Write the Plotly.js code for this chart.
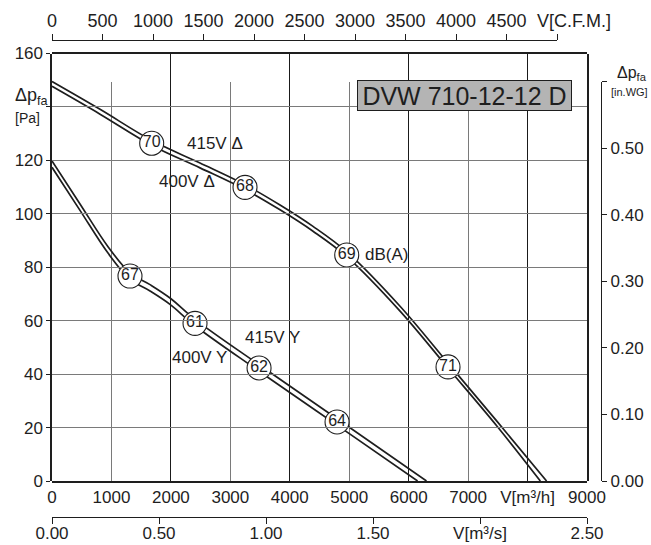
<!DOCTYPE html>
<html><head><meta charset="utf-8">
<script src="https://cdn.plot.ly/plotly-3.0.1.min.js"></script>
<style>html,body{margin:0;padding:0;background:#fff}#chart{width:651px;height:545px}</style>
</head><body><div id="chart"></div>
<script>
// Fan curves: air flow V [m³/h] and static pressure Δp_fa [Pa]
const q415D = [0, 808, 1682, 2490, 3247, 3836, 4391, 4963, 5855, 6662, 7487, 8320];
const p415D = [149.5, 139.1, 127.4, 119.0, 110.9, 103.3, 95.3, 85.7, 65.4, 44.1, 22.3, 0];
const q400D = [0, 808, 1682, 2490, 3247, 3836, 4391, 4963, 5855, 6662, 7487, 8215];
const p400D = [147.7, 137.3, 125.6, 117.2, 109.1, 101.5, 93.5, 83.9, 63.6, 42.3, 20.5, 0];
const q415Y = [0, 471, 942, 1312, 1649, 1985, 2406, 3483, 4795, 6300];
const p415Y = [119.8, 103.7, 87.7, 77.9, 73.5, 68.5, 60.5, 43.5, 23.3, 0];
const q400Y = [0, 471, 942, 1312, 1649, 1985, 2406, 3483, 4795, 6150];
const p400Y = [117.4, 101.3, 85.3, 75.5, 71.1, 66.1, 58.1, 41.1, 20.9, 0];

// Sound levels dB(A) marked on the curves
const dbLabels = ['70', '68', '69', '71', '67', '61', '62', '64'];
const dbQ = [1677, 3247, 4958, 6662, 1312, 2406, 3483, 4795];
const dbP = [126.4, 109.9, 84.6, 42.7, 76.7, 59.0, 42.3, 22.1];

// Curve captions
const curveLabels = ['415V Δ', '400V Δ', 'dB(A)', '415V Y', '400V Y'];
const curveLabelQ = [2742, 2271, 5620, 3713, 2478];
const curveLabelP = [126.4, 112.0, 84.6, 53.8, 46.3];

// Axes
const flowTicks = [0, 1000, 2000, 3000, 4000, 5000, 6000, 7000, 8000, 9000];
const flowTickText = ['0', '1000', '2000', '3000', '4000', '5000', '6000', '7000', 'V[m³/h]', '9000'];
const flowDarkGrid = [2000, 4000, 6000, 8000];
const paTicks = [0, 20, 40, 60, 80, 100, 120, 140, 160];
const paTickText = ['0', '20', '40', '60', '80', '100', '120', '', '160'];
const paDarkGrid = [20, 60, 100, 140];
const cfmTicks = [0, 500, 1000, 1500, 2000, 2500, 3000, 3500, 4000, 4500, 5000];
const cfmTickText = ['0', '500', '1000', '1500', '2000', '2500', '3000', '3500', '4000', '4500', ''];
const cfmUnit = 'V[C.F.M.]';
const m3sTicks = [0, 0.5, 1, 1.5, 2, 2.5];
const m3sTickText = ['0.00', '0.50', '1.00', '1.50', 'V[m³/s]', '2.50'];
const inwgTicks = [0, 0.1, 0.2, 0.3, 0.4, 0.5, 0.6];
const inwgTickText = ['0.00', '0.10', '0.20', '0.30', '0.40', '0.50', ''];
const modelName = 'DVW 710-12-12 D';

const FONT = 'Liberation Sans, Arial, sans-serif';
const NARROW = 'Liberation Sans Narrow, Liberation Sans, Arial, sans-serif';
const INK = '#1e1e1e';

const line = {color: INK, width: 1.7, shape: 'spline', smoothing: 1};
function curve(q, p) {
  return {x: q, y: p, xaxis: 'x2', yaxis: 'y2', type: 'scatter', mode: 'lines', line: line, hoverinfo: 'skip', showlegend: false};
}
// axis carriers (no visible marks) so the secondary scales are drawn
function carrier(xa, ya, xs, ys) {
  return {x: xs, y: ys, xaxis: xa, yaxis: ya, type: 'scatter', mode: 'markers',
    marker: {opacity: 0, size: 1}, hoverinfo: 'skip', showlegend: false};
}
const traces = [
  carrier('x3', 'y', cfmTicks, cfmTicks.map(() => null)),
  carrier('x4', 'y', m3sTicks, m3sTicks.map(() => null)),
  carrier('x', 'y3', inwgTicks.map(() => null), inwgTicks),
  curve(q415D, p415D), curve(q400D, p400D), curve(q415Y, p415Y), curve(q400Y, p400Y),
  {x: dbQ, y: dbP, text: dbLabels, xaxis: 'x2', yaxis: 'y2', type: 'scatter', mode: 'markers+text',
   marker: {symbol: 'circle', size: 24, color: '#fff', line: {color: INK, width: 1.1}},
   textposition: 'middle center', textfont: {family: FONT, size: 16, color: INK},
   hoverinfo: 'skip', showlegend: false}
];

const W = 549, H = 477, L = 52, T = 40;
const px = v => (v - L) / W;
const py = v => (T + H - v) / H;
const yDom = [py(481), py(53.5)];
const xDom = [0, px(587)];

const annotations = curveLabels.map((t, i) => ({
  text: t, x: curveLabelQ[i], y: curveLabelP[i], xref: 'x', yref: 'y', showarrow: false,
  xanchor: 'center', yanchor: 'middle',
  font: {family: FONT, size: 17, color: INK}
}));
function paperText(t, x, y, size, extra) {
  return Object.assign({text: t, xref: 'paper', yref: 'paper', x: px(x), y: py(y), showarrow: false,
    xanchor: 'center', yanchor: 'middle', font: {family: FONT, size: size, color: INK}}, extra || {});
}
annotations.push(
  paperText(modelName, 464.5, 95.5, 25, {bgcolor: '#b4b4b4', bordercolor: INK, borderwidth: 1,
    borderpad: 1, width: 211, height: 27}),
  paperText('Δp<sub>fa</sub>', 31, 96, 18),
  paperText('[Pa]', 27, 118, 14),
  paperText('Δp<sub>fa</sub>', 632, 73, 16),
  paperText('[in.WG]', 629, 92, 11),
  paperText(cfmUnit, 574, 21, 18, {font: {family: NARROW, size: 18, color: INK}})
);

const layout = {
  width: 651, height: 545,
  margin: {l: L, r: 651 - L - W, t: T, b: 545 - T - H, pad: 0},
  paper_bgcolor: '#fff', plot_bgcolor: 'rgba(0,0,0,0)',
  font: {family: FONT, size: 17, color: INK},
  showlegend: false,
  xaxis: {domain: xDom, range: [0, 9000], tickmode: 'array', tickvals: flowTicks, ticktext: flowTickText,
    showgrid: true, gridcolor: '#7a7a7a', gridwidth: 1, zeroline: false, showline: true, mirror: true,
    linecolor: INK, linewidth: 1.6, ticks: '', anchor: 'y', tickfont: {family: FONT, size: 17, color: INK}},
  yaxis: {domain: yDom, range: [0, 160], tickmode: 'array', tickvals: paTicks, ticktext: paTickText,
    showgrid: true, gridcolor: '#7a7a7a', gridwidth: 1, zeroline: false, showline: true, mirror: true,
    linecolor: INK, linewidth: 1.6, ticks: 'outside', ticklen: 4, tickcolor: INK, anchor: 'x',
    tickfont: {family: FONT, size: 17, color: INK}},
  xaxis2: {overlaying: 'x', range: [0, 9000], tickmode: 'array', tickvals: flowDarkGrid, showticklabels: false,
    showgrid: true, gridcolor: '#1a1a1a', gridwidth: 1, zeroline: false, showline: false, ticks: '', anchor: 'y2'},
  yaxis2: {overlaying: 'y', range: [0, 160], tickmode: 'array', tickvals: paDarkGrid, showticklabels: false,
    showgrid: true, gridcolor: '#1a1a1a', gridwidth: 1, zeroline: false, showline: false, ticks: '', anchor: 'x2'},
  xaxis3: {domain: [0, px(557)], range: [0, 5000], side: 'top', anchor: 'free', position: 1,
    tickmode: 'array', tickvals: cfmTicks, ticktext: cfmTickText, showgrid: false, zeroline: false,
    showline: true, linecolor: INK, linewidth: 1.2, ticks: 'outside', ticklen: 6, tickcolor: INK,
    tickfont: {family: NARROW, size: 18, color: INK}},
  xaxis4: {domain: xDom, range: [0, 2.5], side: 'bottom', anchor: 'free', position: 0,
    tickmode: 'array', tickvals: m3sTicks, ticktext: m3sTickText, showgrid: false, zeroline: false,
    showline: true, linecolor: INK, linewidth: 1.2, ticks: 'outside', ticklen: 6, tickcolor: INK,
    ticklabelstandoff: -6,
    tickfont: {family: FONT, size: 17, color: INK}},
  yaxis3: {domain: [yDom[0], py(81.7)], range: [0, 0.6], side: 'right', anchor: 'free', position: 1,
    tickmode: 'array', tickvals: inwgTicks, ticktext: inwgTickText, showgrid: false, zeroline: false,
    showline: true, linecolor: INK, linewidth: 1.2, ticks: 'outside', ticklen: 5, tickcolor: INK,
    tickfont: {family: FONT, size: 17, color: INK}},
  annotations: annotations
};

Plotly.newPlot('chart', traces, layout, {staticPlot: true, displayModeBar: false});
</script></body></html>
